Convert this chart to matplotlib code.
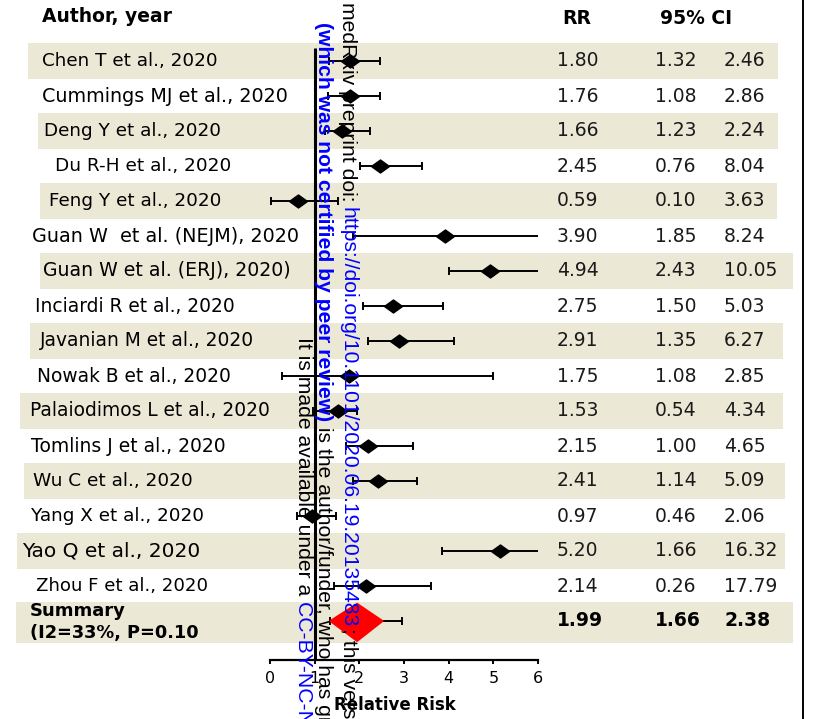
import matplotlib
matplotlib.use("Agg")
import matplotlib.pyplot as plt
import matplotlib.transforms as mtransforms
from matplotlib.patches import Rectangle, Polygon
from matplotlib.lines import Line2D
from matplotlib.font_manager import FontProperties
import numpy as np

# ---------------- data ----------------
authors = ["Chen T et al., 2020", "Cummings MJ et al., 2020", "Deng Y et al., 2020",
           "Du R-H et al., 2020", "Feng Y et al., 2020", "Guan W  et al. (NEJM), 2020",
           "Guan W et al. (ERJ), 2020)", "Inciardi R et al., 2020", "Javanian M et al., 2020",
           "Nowak B et al., 2020", "Palaiodimos L et al., 2020", "Tomlins J et al., 2020",
           "Wu C et al., 2020", "Yang X et al., 2020", "Yao Q et al., 2020", "Zhou F et al., 2020"]
rr_text = ["1.80", "1.76", "1.66", "2.45", "0.59", "3.90", "4.94", "2.75", "2.91", "1.75",
           "1.53", "2.15", "2.41", "0.97", "5.20", "2.14"]
lci_text = ["1.32", "1.08", "1.23", "0.76", "0.10", "1.85", "2.43", "1.50", "1.35", "1.08",
            "0.54", "1.00", "1.14", "0.46", "1.66", "0.26"]
uci_text = ["2.46", "2.86", "2.24", "8.04", "3.63", "8.24", "10.05", "5.03", "6.27", "2.85",
            "4.34", "4.65", "5.09", "2.06", "16.32", "17.79"]

# positions of marks as drawn in the picture (relative-risk scale)
plot_rr = [1.79, 1.79, 1.61, 2.46, 0.63, 3.91, 4.92, 2.75, 2.89, 1.77, 1.52, 2.19, 2.42, 0.94, 5.15, 2.15]
plot_lo = [1.32, 1.30, 1.23, 2.01, 0.02, 1.85, 4.00, 2.08, 2.19, 0.27, 0.97, 1.70, 1.86, 0.60, 3.85, 1.43]
plot_hi = [2.46, 2.46, 2.24, 3.40, 1.52, 8.24, 10.05, 3.87, 4.12, 4.99, 1.95, 3.20, 3.29, 1.48, 16.32, 3.60]

summary_label = ["Summary", "(I2=33%, P=0.10"]
summary_text = ["1.99", "1.66", "2.38"]
summary_diamond = [1.34, 1.95, 2.53]   # left tip, centre, right tip
summary_whisker = [1.34, 2.95]

xticks = [0, 1, 2, 3, 4, 5, 6]

# ---------------- layout (pixels) ----------------
W, H = 814, 719
row0_px, row_h = 61, 35.0
axis_px = 660
x0_px, x6_px = 270, 538
label_x = [42, 42, 44, 55, 49, 32, 43, 35, 40, 37, 30, 31, 33, 31, 22, 36]
label_size = [13.2, 13.8, 13.2, 13.3, 13.2, 13.8, 13.6, 13.4, 13.4, 13.4, 13.4, 13.5, 13.3, 13.2, 14.5, 13.1]
band_ext = {0: (28, 778), 2: (38, 778), 4: (40, 777), 6: (40, 793), 8: (30, 783),
            10: (20, 783), 12: (24, 785), 14: (17, 785), 16: (16, 793)}
band_col = "#ECE8D6"

fig = plt.figure(figsize=(W / 100, H / 100), dpi=100)
fig.patch.set_facecolor("white")
ax = fig.add_axes([x0_px / W, (H - axis_px) / H, (x6_px - x0_px) / W, axis_px / H])
ax.patch.set_visible(False)
ax.set_xlim(0, 6)
ax.set_ylim((axis_px - row0_px) / row_h, -row0_px / row_h)
trans = mtransforms.blended_transform_factory(fig.transFigure, ax.transData)

n = len(authors)
rows = np.arange(n)
srow = n  # summary row index = 16

# shaded bands
for r, (l, rgt) in band_ext.items():
    if r == srow:
        y0, hgt = r - 0.55, 1.17
    else:
        y0, hgt = r - 0.52, 1.04
    ax.add_patch(Rectangle((l / W, y0), (rgt - l) / W, hgt, transform=trans,
                           facecolor=band_col, edgecolor="none", clip_on=False, zorder=0))

# labels and numbers
txtcol = "#1a1a1a"
for i in range(n):
    ax.text(label_x[i] / W, rows[i], authors[i], transform=trans, ha="left", va="center",
            fontsize=label_size[i], color="black", family="DejaVu Sans", clip_on=False)
    for xp, s in ((557, rr_text[i]), (655, lci_text[i]), (724, uci_text[i])):
        ax.text(xp / W, rows[i], s, transform=trans, ha="left", va="center",
                fontsize=13.5, color=txtcol, family="DejaVu Sans", clip_on=False)

ax.text(30 / W, srow - 0.28, summary_label[0], transform=trans, ha="left", va="center",
        fontsize=13, fontweight="bold", color="black", clip_on=False)
ax.text(30 / W, srow + 0.35, summary_label[1], transform=trans, ha="left", va="center",
        fontsize=12.8, fontweight="bold", color="black", clip_on=False)
for xp, s in zip((557, 655, 724), summary_text):
    ax.text(xp / W, srow, s, transform=trans, ha="left", va="center",
            fontsize=13.5, fontweight="bold", color="black", clip_on=False)

# headers
fig.text(42 / W, 1 - 16 / H, "Author, year", ha="left", va="center", fontsize=13.5, fontweight="bold")
fig.text(562 / W, 1 - 18 / H, "RR", ha="left", va="center", fontsize=13.5, fontweight="bold")
fig.text(660 / W, 1 - 18 / H, "95% CI", ha="left", va="center", fontsize=13.5, fontweight="bold")

# forest marks
rr = np.array(plot_rr); lo = np.array(plot_lo); hi = np.array(plot_hi)
ax.errorbar(rr, rows, xerr=[rr - lo, hi - rr], fmt="none", ecolor="black",
            elinewidth=1.4, capsize=3, capthick=1.4, zorder=3)
diamond = [(-1, 0), (0, 0.72), (1, 0), (0, -0.72), (-1, 0)]
ax.plot(rr, rows, linestyle="none", marker=diamond, markersize=13, color="black", zorder=4)

# summary
ax.errorbar([summary_diamond[1]], [srow],
            xerr=[[summary_diamond[1] - summary_whisker[0]], [summary_whisker[1] - summary_diamond[1]]],
            fmt="none", ecolor="black", elinewidth=1.4, capsize=3, capthick=1.4, zorder=3)
ax.add_patch(Polygon([(summary_diamond[0], srow), (summary_diamond[1], srow - 0.5),
                      (summary_diamond[2], srow), (summary_diamond[1], srow + 0.58)],
                     closed=True, facecolor="#FF0000", edgecolor="#FF0000", zorder=4))

# reference line at RR = 1
ax.plot([1, 1], [-13 / row_h, (axis_px - row0_px) / row_h], color="black", lw=2.2,
        clip_on=False, zorder=2, solid_capstyle="butt")

# axis
for sp in ("top", "left", "right"):
    ax.spines[sp].set_visible(False)
ax.spines["bottom"].set_linewidth(1.6)
ax.set_yticks([])
ax.set_xticks(xticks)
ax.set_xticklabels([str(t) for t in xticks])
ax.tick_params(axis="x", direction="out", length=3, width=1.4, labelsize=11.5, pad=5)
fig.text(395 / W, 1 - 705 / H, "Relative Risk", ha="center", va="center", fontsize=12, fontweight="bold")

# right border line
fig.add_artist(Line2D([803 / W, 803 / W], [0, 1], transform=fig.transFigure, color="black", lw=1.4))

# medRxiv watermark (vertical)
renderer = fig.canvas.get_renderer()
fp_reg = FontProperties(family="Liberation Sans", size=15.2)
fp_bold = FontProperties(family="Liberation Sans", size=15.2, weight="bold")


def text_len(s, fp):
    w1, _, _ = renderer.get_text_width_height_descent(s + "|", fp, ismath=False)
    w2, _, _ = renderer.get_text_width_height_descent("|", fp, ismath=False)
    return w1 - w2


blue = "#0000FF"
columns = [
    (348, 2, [("medRxiv preprint doi: ", fp_reg, "black"),
              ("https://doi.org/10.1101/2020.06.19.20135483", fp_reg, blue),
              ("; this version posted June 21, 2020. The copyright holder for this preprint", fp_reg, "black")]),
    (323, 22, [("(which was not certified by peer review)", fp_bold, blue),
               (" is the author/funder, who has granted medRxiv a license to display the preprint in perpetuity.", fp_reg, "black")]),
    (303, 337, [("It is made available under a ", fp_reg, "black"),
                ("CC-BY-NC-ND 4.0 International license", fp_reg, blue),
                (".", fp_reg, "black")]),
]
for xc, start, pieces in columns:
    y = H - start
    for s, fp, c in pieces:
        fig.text(xc / W, y / H, s, rotation=270, ha="center", va="top",
                 fontproperties=fp, color=c, zorder=10)
        y -= text_len(s, fp)

fig.savefig("out.png", dpi=100)
